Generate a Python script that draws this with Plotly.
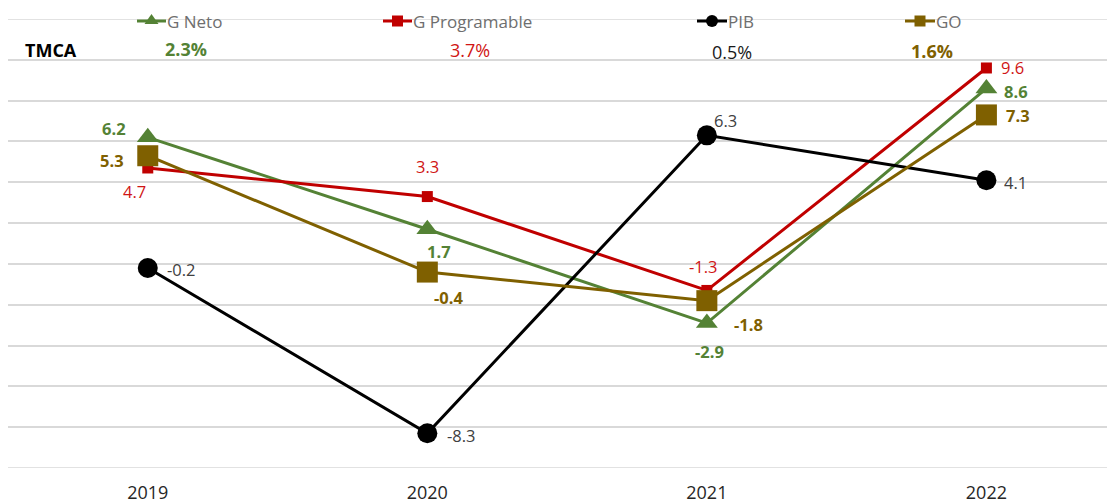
import plotly.graph_objects as go

years = ["2019", "2020", "2021", "2022"]
g_neto = [6.2, 1.7, -2.9, 8.6]
g_prog = [4.7, 3.3, -1.3, 9.6]
pib = [-0.2, -8.3, 6.3, 4.1]
go_vals = [5.3, -0.4, -1.8, 7.3]
series_names = ["G Neto", "G Programable", "PIB", "GO"]
tmca = ["2.3%", "3.7%", "0.5%", "1.6%"]
y_min, y_max = -10, 12

GREEN = "#548235"
RED = "#C00000"
RED_TXT = "#D01515"
BLACK = "#000000"
BROWN = "#7F6000"
GRID = "#D9D9D9"
FONT = "Open Sans"

W, H = 1115, 502
OFF = 8  # default page body margin
L, R, T, B = 0, 8, 11, 42

xs = list(range(len(years)))
fig = go.Figure()
annotations = []

def add_series(name, vals, color, symbol, size, lw, offsets, tcolor, bold):
    fig.add_trace(go.Scatter(
        x=xs, y=vals, name=name, mode="lines+markers",
        line=dict(color=color, width=lw),
        marker=dict(symbol=symbol, size=size, color=color),
        cliponaxis=False, showlegend=False, hoverinfo="x+y+name",
    ))
    for xi, v, (dx, dy) in zip(xs, vals, offsets):
        annotations.append(dict(
            x=xi, y=v, xref="x", yref="y", showarrow=False,
            text=(f"<b>{v:.1f}</b>" if bold else f"{v:.1f}"),
            xshift=dx, yshift=-dy, xanchor="center", yanchor="middle",
            font=dict(family=FONT, size=16.5, color=tcolor)))

add_series("G Neto", g_neto, GREEN, "triangle-up", 19, 3,
           [(-34, -9), (12, 22), (3, 28), (30, 3)], GREEN, True)
add_series("G Programable", g_prog, RED, "square", 11, 3,
           [(-13, 24), (0, -30), (-3, -24), (26, 0)], RED_TXT, False)
add_series("PIB", pib, BLACK, "circle", 20, 3,
           [(34, 2), (34, 2), (19, -15), (29, 2)], "#404040", False)
add_series("GO", go_vals, BROWN, "square", 21, 3,
           [(-36, 5), (21, 25), (42, 24), (32, 1)], BROWN, True)

# Custom legend row along top gridline (page pixel coords)
def px2paper_x(px):
    return (px - OFF - L) / (W - L - R)

def px2paper_y(py):
    return 1 - (py - OFF - T) / (H - T - B)

legend_items = [
    (series_names[0], GREEN, "tri", 137, 166),
    (series_names[1], RED, "sq_small", 383, 412),
    (series_names[2], BLACK, "circ", 697, 727),
    (series_names[3], BROWN, "sq", 905, 935),
]
shapes = []
# edge gridlines (plotly omits them at the range boundaries)
for yv in (y_min, y_max):
    shapes.append(dict(type="line", xref="paper", yref="y", x0=0, x1=1, y0=yv, y1=yv,
                       line=dict(color=GRID, width=1.5), layer="below"))
ly = 21
for name, color, kind, x0, x1 in legend_items:
    shapes.append(dict(type="line", xref="paper", yref="paper",
                       x0=px2paper_x(x0), x1=px2paper_x(x1),
                       y0=px2paper_y(ly), y1=px2paper_y(ly),
                       line=dict(color=color, width=3)))
    cx = (x0 + x1) / 2
    if kind == "tri":
        path = (f"M {px2paper_x(cx-7)} {px2paper_y(ly+3)} L {px2paper_x(cx+7)} {px2paper_y(ly+3)} "
                f"L {px2paper_x(cx)} {px2paper_y(ly-7)} Z")
        shapes.append(dict(type="path", xref="paper", yref="paper", path=path,
                           fillcolor=color, line=dict(width=0)))
    elif kind == "circ":
        shapes.append(dict(type="circle", xref="paper", yref="paper",
                           x0=px2paper_x(cx-6), x1=px2paper_x(cx+6),
                           y0=px2paper_y(ly-6), y1=px2paper_y(ly+6),
                           fillcolor=color, line=dict(width=0)))
    else:
        s = 5.5
        shapes.append(dict(type="rect", xref="paper", yref="paper",
                           x0=px2paper_x(cx-s), x1=px2paper_x(cx+s),
                           y0=px2paper_y(ly-s), y1=px2paper_y(ly+s),
                           fillcolor=color, line=dict(width=0)))
    annotations.append(dict(xref="paper", yref="paper", x=px2paper_x(x1 - 1),
                            y=px2paper_y(ly + 1), text=name, showarrow=False,
                            xanchor="left", yanchor="middle",
                            font=dict(family=FONT, size=17, color="#6E6E6E")))

# TMCA row
annotations.append(dict(xref="paper", yref="paper", x=px2paper_x(23), y=px2paper_y(50),
                        text="<b>TMCA</b>", showarrow=False, xanchor="left", yanchor="middle",
                        font=dict(family=FONT, size=18, color="#000000")))
tm_specs = [(186, 49, GREEN, True), (470, 50, RED_TXT, False),
            (732, 52, "#1A1A1A", False), (932, 51, BROWN, True)]
for (cx, cy, color, bold), txt in zip(tm_specs, tmca):
    annotations.append(dict(xref="paper", yref="paper", x=px2paper_x(cx), y=px2paper_y(cy),
                            text=(f"<b>{txt}</b>" if bold else txt), showarrow=False,
                            xanchor="center", yanchor="middle",
                            font=dict(family=FONT, size=18, color=color)))

fig.update_layout(
    width=W, height=H,
    margin=dict(l=L, r=R, t=T, b=B),
    paper_bgcolor="white", plot_bgcolor="white",
    shapes=shapes, annotations=annotations,
    xaxis=dict(range=[-0.5, 3.46], tickvals=xs, ticktext=years,
               showgrid=False, zeroline=False, showline=False,
               ticklabelstandoff=12,
               tickfont=dict(family=FONT, size=18, color="#262626"), ticks=""),
    yaxis=dict(range=[y_min, y_max], dtick=2, tick0=0, showticklabels=False,
               showgrid=True, gridcolor=GRID, gridwidth=1.5, zeroline=False),
)

fig.write_html("out.html")
